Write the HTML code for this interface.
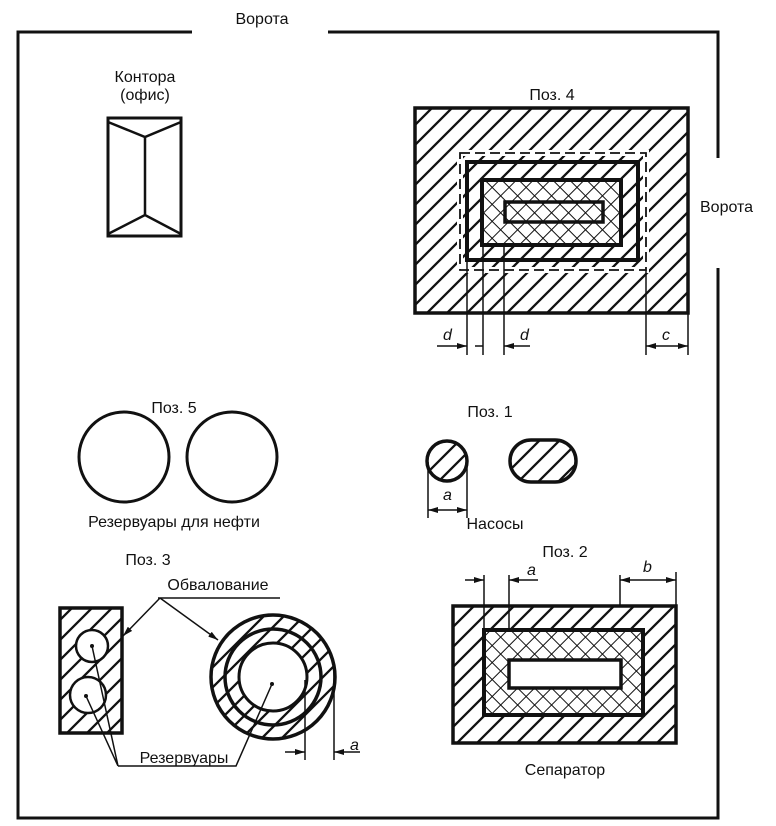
<!DOCTYPE html>
<html><head><meta charset="utf-8"><style>
html,body{margin:0;padding:0;background:#fff}
svg{display:block}
text{font-family:"Liberation Sans",sans-serif;font-size:16px;fill:#111}
</style></head><body>
<svg width="776" height="826" viewBox="0 0 776 826" xmlns="http://www.w3.org/2000/svg">
<defs>
<pattern id="h" patternUnits="userSpaceOnUse" width="20" height="20">
<rect width="20" height="20" fill="#fff"/><path d="M-5,25 L25,-5 M-5,5 L5,-5 M15,25 L25,15" stroke="#111" stroke-width="2.3"/></pattern>
<pattern id="x" patternUnits="userSpaceOnUse" width="12" height="12" patternTransform="rotate(45)">
<rect width="12" height="12" fill="#fff"/><line x1="0" y1="0" x2="0" y2="12" stroke="#111" stroke-width="2"/><line x1="0" y1="0" x2="12" y2="0" stroke="#111" stroke-width="2"/></pattern>
<marker id="a" markerWidth="10" markerHeight="6" refX="10" refY="3" orient="auto" markerUnits="userSpaceOnUse"><path d="M0,0 L10,3 L0,6z" fill="#111"/></marker>
</defs>
<g stroke="#111" fill="none">
<path d="M192,32 H18 V818 H718 V268 M328,32 H718 V158" stroke-width="3"/>
<rect x="108" y="118" width="73" height="118" stroke-width="3"/>
<path d="M108,122 L145,137 L181,122 M145,137 V215 M108,234 L145,215 L181,234" stroke-width="2.5"/>
<rect x="415" y="108" width="273" height="205" fill="url(#h)" stroke-width="3.5"/>
<rect x="460" y="153" width="186" height="117" stroke="#fff" stroke-width="6"/>
<rect x="460" y="153" width="186" height="117" stroke-width="1.8" stroke-dasharray="10,5"/>
<rect x="467" y="162" width="171" height="98" stroke-width="4"/>
<rect x="482" y="180" width="139" height="65" fill="url(#x)" stroke-width="4"/>
<rect x="505" y="202" width="98" height="20" stroke-width="3.5"/>
<path d="M467,260 V355 M483,245 V355 M504,245 V355 M646,270 V355 M688,313 V355" stroke-width="1.5"/>
<path d="M437,346 H467" stroke-width="1.5" marker-end="url(#a)"/>
<path d="M475,346 H483" stroke-width="1.5"/>
<path d="M530,346 H504" stroke-width="1.5" marker-end="url(#a)"/>
<path d="M667,346 H646" stroke-width="1.5" marker-end="url(#a)"/>
<path d="M667,346 H688" stroke-width="1.5" marker-end="url(#a)"/>
<circle cx="124" cy="457" r="45" stroke-width="3"/>
<circle cx="232" cy="457" r="45" stroke-width="3"/>
<circle cx="447" cy="461" r="20" fill="url(#h)" stroke-width="3.5"/>
<rect x="510" y="440" width="66" height="42" rx="21" fill="url(#h)" stroke-width="3.5"/>
<path d="M428,462 V518 M467,462 V518" stroke-width="1.5"/>
<path d="M447,510 H428" stroke-width="1.5" marker-end="url(#a)"/>
<path d="M447,510 H467" stroke-width="1.5" marker-end="url(#a)"/>
<rect x="453" y="606" width="223" height="137" fill="url(#h)" stroke-width="3.5"/>
<rect x="484" y="630" width="159" height="85" fill="url(#x)" stroke-width="4"/>
<rect x="509" y="660" width="112" height="28" fill="#fff" stroke-width="3.5"/>
<path d="M484,575 V630 M509,575 V630 M620,575 V606 M676,572 V606" stroke-width="1.5"/>
<path d="M465,580 H484" stroke-width="1.5" marker-end="url(#a)"/>
<path d="M538,580 H509" stroke-width="1.5" marker-end="url(#a)"/>
<path d="M648,580 H620" stroke-width="1.5" marker-end="url(#a)"/>
<path d="M648,580 H676" stroke-width="1.5" marker-end="url(#a)"/>
<rect x="60" y="608" width="62" height="125" fill="url(#h)" stroke-width="3.5"/>
<circle cx="92" cy="646" r="16" fill="#fff" stroke-width="2.5"/>
<circle cx="88" cy="695" r="18" fill="#fff" stroke-width="2.5"/>
<circle cx="273" cy="677" r="62" fill="url(#h)" stroke-width="3.5"/>
<circle cx="273" cy="677" r="48" stroke-width="3.5"/>
<circle cx="273" cy="677" r="34" fill="#fff" stroke-width="3"/>
<path d="M158,598 H280" stroke-width="1.5"/>
<path d="M160,598 L123,636" stroke-width="1.5" marker-end="url(#a)"/>
<path d="M160,598 L218,640" stroke-width="1.5" marker-end="url(#a)"/>
<path d="M118,766 L92,646 M118,766 L86,696 M118,766 H236 L272,684" stroke-width="1.5"/>
<path d="M305,680 V760 M334,670 V760" stroke-width="1.5"/>
<path d="M285,752 H305" stroke-width="1.5" marker-end="url(#a)"/>
<path d="M360,752 H334" stroke-width="1.5" marker-end="url(#a)"/>
</g>
<g fill="#111">
<circle cx="92" cy="646" r="2"/><circle cx="86" cy="696" r="2"/><circle cx="272" cy="684" r="2"/>
</g>
<text x="262" y="24" text-anchor="middle">Ворота</text>
<text x="700" y="212">Ворота</text>
<text x="145" y="82" text-anchor="middle">Контора</text>
<text x="145" y="100" text-anchor="middle">(офис)</text>
<text x="552" y="100" text-anchor="middle">Поз. 4</text>
<text x="443" y="340" font-style="italic">d</text>
<text x="520" y="340" font-style="italic">d</text>
<text x="662" y="340" font-style="italic">c</text>
<text x="174" y="413" text-anchor="middle">Поз. 5</text>
<text x="174" y="527" text-anchor="middle">Резервуары для нефти</text>
<text x="490" y="417" text-anchor="middle">Поз. 1</text>
<text x="443" y="500" font-style="italic">a</text>
<text x="495" y="529" text-anchor="middle">Насосы</text>
<text x="565" y="557" text-anchor="middle">Поз. 2</text>
<text x="527" y="575" font-style="italic">a</text>
<text x="643" y="572" font-style="italic">b</text>
<text x="565" y="775" text-anchor="middle">Сепаратор</text>
<text x="148" y="565" text-anchor="middle" font-size="15">Поз. 3</text>
<text x="218" y="590" text-anchor="middle">Обвалование</text>
<text x="184" y="763" text-anchor="middle">Резервуары</text>
<text x="350" y="750" font-style="italic">a</text>
</svg>
</body></html>
